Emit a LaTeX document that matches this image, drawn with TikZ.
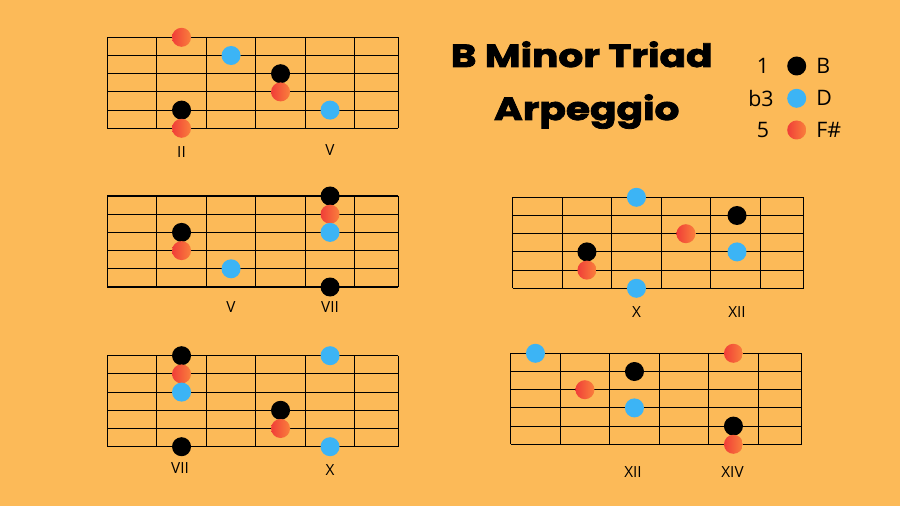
\documentclass[tikz,border=0pt]{standalone}
\usepackage{fontspec}
\setmainfont{Open Sans}
\newfontfamily\titlefont{Poppins}[BoldFeatures={FakeBold=2.5,FakeStretch=1.22}]
\usepackage{xcolor}

\definecolor{bgorange}{RGB}{252,186,88}
\definecolor{thirdblue}{RGB}{60,180,245}
\definecolor{fifthredA}{RGB}{240,62,56}
\definecolor{fifthredB}{RGB}{250,128,60}

\tikzset{
  fret line/.style={line width=0.8pt},
  note dot/.style={circle,minimum size=14.25pt,inner sep=0pt},
  root/.style={note dot,fill=black},
  third/.style={note dot,fill=thirdblue},
  fifth/.style={note dot,left color=fifthredA,right color=fifthredB},
  fret label/.style={inner sep=0pt,font=\fontsize{11.5}{12}\selectfont},
  legend text/.style={inner sep=0pt,font=\fontsize{16}{18}\selectfont},
  title text/.style={anchor=base,inner sep=0pt,font=\titlefont\bfseries\fontsize{24}{28}\selectfont},
}

\begin{document}
\begin{tikzpicture}[x=0.75pt,y=0.75pt,yscale=-1,xscale=1]
\useasboundingbox (0,0) rectangle (900,506);
\fill[bgorange] (0,0) rectangle (900,506);

%Shape: Fretboards
\foreach \bx/\by in {107.3/37.3, 107.3/196, 512.7/197.3, 107.3/355.7, 510.7/353.3} {
  \foreach \s in {0,...,5}
    \draw[fret line] (\bx,\by+18.2*\s) -- (\bx+291,\by+18.2*\s);
  \foreach \f in {0,...,5}
    \draw[fret line] (\bx+49.5*\f,\by) -- (\bx+49.5*\f,\by+91);
  \draw[fret line] (\bx+291,\by) -- (\bx+291,\by+91);
}

%Shape: Circle -- position II / V
\node[fifth] (ii-a) at (181.55,37.3) {};
\node[third] (ii-b) at (231.05,55.5) {};
\node[root]  (ii-c) at (280.55,73.7) {};
\node[fifth] (ii-d) at (280.55,91.9) {};
\node[root]  (ii-e) at (181.55,110.1) {};
\node[fifth] (ii-f) at (181.55,128.3) {};
\node[third] (ii-g) at (330.05,110.1) {};

%Shape: Circle -- position V / VII
\node[root]  (v-a) at (181.55,232.4) {};
\node[fifth] (v-b) at (181.55,250.6) {};
\node[third] (v-c) at (231.05,268.8) {};
\node[root]  (v-d) at (330.05,196) {};
\node[fifth] (v-e) at (330.05,214.2) {};
\node[third] (v-f) at (330.05,232.4) {};
\node[root]  (v-g) at (330.05,287) {};

%Shape: Circle -- position X / XII
\node[third] (x-a) at (636.45,197.3) {};
\node[third] (x-b) at (636.45,288.3) {};
\node[root]  (x-c) at (586.95,251.9) {};
\node[fifth] (x-d) at (586.95,270.1) {};
\node[fifth] (x-e) at (685.95,233.7) {};
\node[root]  (x-f) at (737,215.5) {};
\node[third] (x-g) at (737,251.9) {};

%Shape: Circle -- position VII / X
\node[root]  (vii-a) at (181.55,355.7) {};
\node[fifth] (vii-b) at (181.55,373.9) {};
\node[third] (vii-c) at (181.55,392.1) {};
\node[root]  (vii-d) at (181.55,446.7) {};
\node[root]  (vii-e) at (280.55,410.3) {};
\node[fifth] (vii-f) at (280.55,428.5) {};
\node[third] (vii-g) at (330.05,355.7) {};
\node[third] (vii-h) at (330.05,446.7) {};

%Shape: Circle -- position XII / XIV
\node[third] (xii-a) at (535.45,353.3) {};
\node[fifth] (xii-b) at (584.95,389.7) {};
\node[root]  (xii-c) at (634.45,371.5) {};
\node[third] (xii-d) at (634.45,407.9) {};
\node[fifth] (xii-e) at (733.45,353.3) {};
\node[root]  (xii-f) at (733.45,426.1) {};
\node[fifth] (xii-g) at (733.45,444.3) {};

% Text Node
\node[fret label] (lbl-ii)   at (181.5,151.7) {II};
\node[fret label] (lbl-v)    at (330,150.5) {V};
\node[fret label] (lbl-v2)   at (231,306.7) {V};
\node[fret label] (lbl-vii)  at (330,306.7) {VII};
\node[fret label] (lbl-x)    at (636.5,311.7) {X};
\node[fret label] (lbl-xii)  at (737,311.7) {XII};
\node[fret label] (lbl-vii2) at (180,468.3) {VII};
\node[fret label] (lbl-x2)   at (330,470) {X};
\node[fret label] (lbl-xii2) at (633,471.7) {XII};
\node[fret label] (lbl-xiv)  at (732.5,471.7) {XIV};

% Text Node
\node[title text] (title-a) at (581.7,67) {B Minor Triad};
\node[title text] (title-b) at (586.7,120) {Arpeggio};

% Legend
\node[legend text] (deg-1)  at (763,66) {1};
\node[legend text] (deg-3)  at (761,98.3) {b3};
\node[legend text] (deg-5)  at (763,130) {5};
\node[root]  (key-1) at (796.7,66) {};
\node[third] (key-3) at (796.7,98.3) {};
\node[fifth] (key-5) at (796.7,130) {};
\node[legend text,anchor=west] (note-1) at (816,66) {B};
\node[legend text,anchor=west] (note-3) at (816,98.3) {D};
\node[legend text,anchor=west] (note-5) at (816,130) {F\#};

\end{tikzpicture}
\end{document}
